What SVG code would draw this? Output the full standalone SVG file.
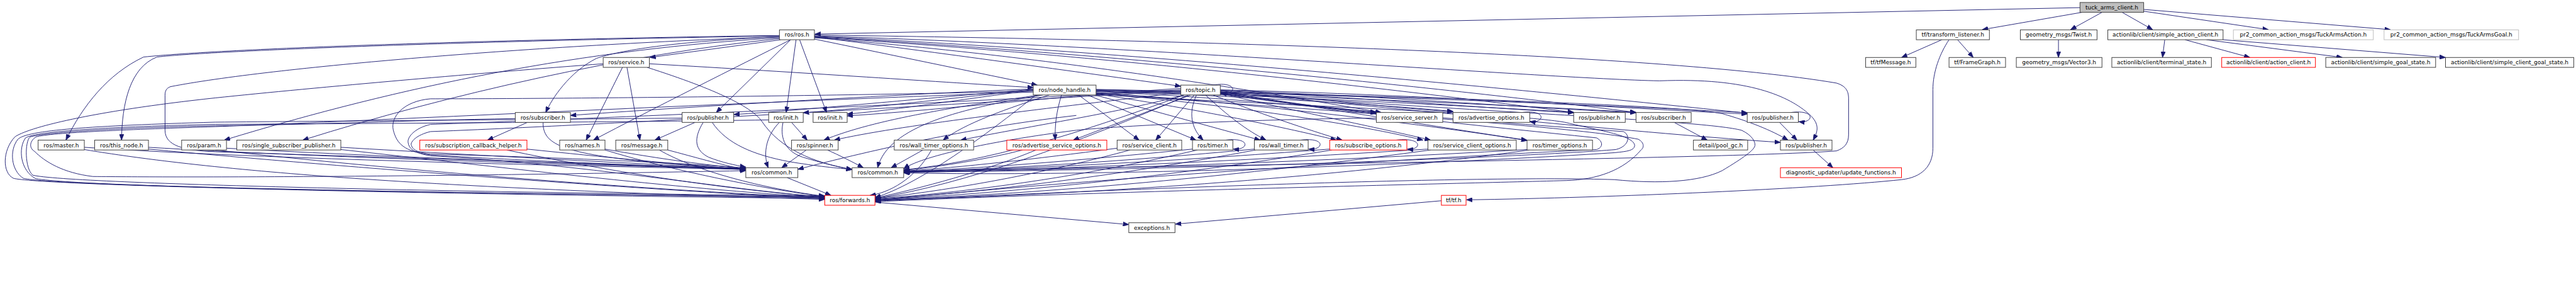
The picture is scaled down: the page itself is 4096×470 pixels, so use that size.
<svg xmlns="http://www.w3.org/2000/svg" width="4096" height="470" viewBox="0 0 4096 470">
<defs>
<marker id="a" markerWidth="14" markerHeight="10" refX="13" refY="5" orient="auto" markerUnits="userSpaceOnUse"><path d="M0,0 L13,5 L0,10 z" fill="#191970" stroke="#191970" stroke-width="1"/></marker>
<style>
.e{fill:none;stroke:#191970;stroke-width:1.3;marker-end:url(#a)}
.n{fill:#fff;stroke:#404040;stroke-width:1.4}
.r{fill:#fff;stroke:#ff0000;stroke-width:1.4}
.g{fill:#fff;stroke:#bfbfbf;stroke-width:1.4}
.k{fill:#bfbfbf;stroke:#404040;stroke-width:1.4}
.t{font-family:"DejaVu Sans",sans-serif;font-size:12.6px;text-anchor:middle;fill:#000}
</style>
</defs>
<rect width="4096" height="470" fill="#fff"/>
<g transform="scale(0.713092)">
<g id="connectors">
<path class="e" d="M4638,17 L1817,76"/>
<path class="e" d="M4642,27.5 L4420,66"/>
<path class="e" d="M4687,27.5 L4617,66"/>
<path class="e" d="M4732,27.5 L4800,66"/>
<path class="e" d="M4780,25 L5058,66"/>
<path class="e" d="M4780,21 L5330,66"/>
<path class="e" d="M4330,88.5 L4240,128"/>
<path class="e" d="M4365,88.5 L4400,128"/>
<path class="e" d="M4346,88.5 C4325,120 4310,160 4310,200 L4310,330 C4310,370 4285,395 4240,400 C4050,420 3600,440 3270,445"/>
<path class="e" d="M4590,88.5 L4590,128"/>
<path class="e" d="M4827,88.5 L4822,128"/>
<path class="e" d="M4872,88.5 L5017,128"/>
<path class="e" d="M4920,88.5 L5223,128"/>
<path class="e" d="M4957,88.5 L5453,128"/>
<path class="e" d="M1738,79 C1100,88 500,108 320,127 C240,165 185,235 147,312"/>
<path class="e" d="M1738,80 C1100,90 480,112 350,127 C290,150 272,230 271,312"/>
<path class="e" d="M1738,84 C1300,110 900,190 500,312"/>
<path class="e" d="M1738,86 C1400,120 1000,210 675,312"/>
<path class="e" d="M1741,88.5 L1449,128"/>
<path class="e" d="M1738,82 C1500,92 1380,113 1330,130 C1270,160 1230,220 1217,250.5"/>
<path class="e" d="M1763,88.5 C1650,145 1450,245 1323,312"/>
<path class="e" d="M1763,88.5 L1597,250.5"/>
<path class="e" d="M1775,88.5 L1753,250.5"/>
<path class="e" d="M1783,88.5 L1843,250.5"/>
<path class="e" d="M1816,87 L2313,189.5"/>
<path class="e" d="M1816,82 C2100,118 2400,160 2633,192"/>
<path class="e" d="M1816,78 C2600,88 3700,118 4095,185 C4118,192 4122,205 4122,220 L4122,300 C4122,320 4112,330 4095,336 C3900,352 2700,368 2016,381"/>
<path class="e" d="M1816,80 C2500,100 3450,175 3700,180 C3900,172 3990,215 4035,255 C4060,278 4052,295 4043,312"/>
<path class="e" d="M1816,81 C2500,112 3400,200 3896,252"/>
<path class="e" d="M1816,82 C2500,120 3300,205 3648,250.5"/>
<path class="e" d="M1816,83 C2500,125 3200,210 3509,250.5"/>
<path class="e" d="M1816,84 C2400,130 2900,220 3080,250.5"/>
<path class="e" d="M1738,82 C1200,100 600,150 380,193 C370,197 368,203 368,212 L368,290 C368,325 410,335 480,338 C900,352 1400,366 1663,376"/>
<path class="e" d="M1388,150 L1307,312"/>
<path class="e" d="M1398,150 L1427,312"/>
<path class="e" d="M1448,142 C1800,162 2100,183 2304,195"/>
<path class="e" d="M1443,150 C1600,200 1680,240 1700,272 C1740,330 1810,362 1900,377"/>
<path class="e" d="M1345,142 C1100,160 700,195 480,218 C200,248 60,285 33,305 C5,335 5,385 30,397 C80,412 900,432 1839,442"/>
<path class="e" d="M1521,263 C1200,266 700,270 480,272 C200,280 60,290 40,310 C20,335 25,380 52,397 C120,415 1000,430 1839,440"/>
<path class="e" d="M1714,267 C1400,272 800,275 480,277 C250,282 80,292 57,307 C40,330 45,380 80,398 C200,418 1100,432 1839,438"/>
<path class="e" d="M1149,264 C900,268 700,278 480,280 C250,285 100,295 67,305 C55,315 55,375 73,390 C150,410 1100,430 1839,436"/>
<path class="e" d="M2304,205 C1600,230 800,270 480,282 C300,288 110,295 80,305 C65,315 65,330 77,337 C100,360 140,385 207,393 C400,395 900,395 1663,380"/>
<path class="e" d="M2304,203 C1800,215 1200,220 960,220 C900,225 870,260 877,290 C885,320 900,337 960,345 C1200,360 1500,370 1663,378"/>
<path class="e" d="M2633,200 C2000,235 1300,265 960,277 C925,285 908,305 910,317 C912,330 920,340 960,347 C1300,365 1600,420 1839,439"/>
<path class="e" d="M2633,202 C2000,240 1300,280 960,293 C930,300 915,315 917,323 C920,333 930,340 960,343 C1300,352 1550,365 1663,374"/>
<path class="e" d="M2304,198 C2000,210 1500,240 1272,257"/>
<path class="e" d="M2304,199 C2100,215 1800,245 1636,255"/>
<path class="e" d="M2304,200 C2150,215 1950,240 1791,251"/>
<path class="e" d="M2304,201 C2150,220 2000,245 1889,254"/>
<path class="e" d="M2318,211.5 C2150,235 1950,265 1837,312"/>
<path class="e" d="M2325,211.5 C2150,240 1980,280 1957,373.5"/>
<path class="e" d="M2340,211.5 C2250,240 2150,275 2103,312"/>
<path class="e" d="M2367,211.5 C2355,250 2352,280 2353,312"/>
<path class="e" d="M2405,211.5 L2540,312"/>
<path class="e" d="M2425,211.5 L2667,312"/>
<path class="e" d="M2440,211 L2810,312"/>
<path class="e" d="M2444,209 C2650,240 2850,280 2980,312"/>
<path class="e" d="M2444,207 C2700,230 3000,270 3173,312"/>
<path class="e" d="M2444,206 C2800,230 3200,280 3405,313"/>
<path class="e" d="M2444,204 C2700,215 2900,235 3069,250"/>
<path class="e" d="M2444,203 C2800,215 3100,235 3240,248"/>
<path class="e" d="M2444,202 C2900,215 3300,238 3509,250"/>
<path class="e" d="M2444,201 C2900,212 3400,236 3648,250"/>
<path class="e" d="M2444,200 C3000,210 3600,235 3896,251"/>
<path class="e" d="M2444,199 C3200,215 3750,235 3840,253 C3900,270 3950,290 3987,312"/>
<path class="e" d="M2400,257 C2200,280 2000,320 1779,377"/>
<path class="e" d="M2310,211.5 C2200,300 2050,410 1951,440"/>
<path class="e" d="M2640,211.5 C2500,250 2300,280 2142,312"/>
<path class="e" d="M2655,211.5 L2393,312"/>
<path class="e" d="M2663,211.5 L2577,312"/>
<path class="e" d="M2668,211.5 C2650,250 2655,285 2683,312"/>
<path class="e" d="M2688,211.5 C2740,260 2780,290 2823,312"/>
<path class="e" d="M2705,211.5 C2800,250 2920,290 2993,312"/>
<path class="e" d="M2721,208 C2900,250 3100,290 3190,312"/>
<path class="e" d="M2721,206 C2950,240 3250,290 3405,312"/>
<path class="e" d="M2721,204 C2850,225 2950,240 3069,252"/>
<path class="e" d="M2721,203 C2950,220 3100,240 3240,249"/>
<path class="e" d="M2721,202 C3000,215 3300,240 3509,251"/>
<path class="e" d="M2721,201 C3100,215 3400,240 3648,251"/>
<path class="e" d="M2721,200 C3200,212 3600,240 3896,254"/>
<path class="e" d="M2721,205 C3100,240 3700,300 3970,317"/>
<path class="e" d="M2633,206 C2300,245 2000,280 1860,312"/>
<path class="e" d="M2633,197 C2400,210 2100,245 1889,258"/>
<path class="e" d="M2640,211.5 C2400,300 2200,360 2015,378"/>
<path class="e" d="M2650,211.5 C2400,320 2150,410 1951,442"/>
<path class="e" d="M188,328 C600,355 1300,370 1663,377"/>
<path class="e" d="M188,333 C500,385 1000,420 1839,444"/>
<path class="e" d="M331,328 C700,350 1300,368 1663,376"/>
<path class="e" d="M331,332 C800,375 1400,420 1839,443"/>
<path class="e" d="M505,330 C900,352 1400,368 1663,377"/>
<path class="e" d="M480,334 C900,380 1400,420 1839,441"/>
<path class="e" d="M760,328 C1100,348 1450,366 1663,376"/>
<path class="e" d="M760,333 C1100,370 1500,420 1839,440"/>
<path class="e" d="M1175,332 C1350,350 1500,365 1663,377"/>
<path class="e" d="M1130,334 C1350,380 1600,420 1839,439"/>
<path class="e" d="M1349,332 C1450,350 1550,365 1663,376"/>
<path class="e" d="M1349,334 C1500,380 1700,420 1839,438"/>
<path class="e" d="M1489,334 C1550,350 1600,365 1663,378"/>
<path class="e" d="M1470,334 C1550,380 1700,420 1839,437"/>
<path class="e" d="M1211,272.5 C1210,320 1250,340 1440,360 C1550,370 1620,375 1663,375"/>
<path class="e" d="M1176,272.5 L1087,312"/>
<path class="e" d="M1550,272.5 L1460,312"/>
<path class="e" d="M1568,272.5 C1545,310 1550,335 1580,350 C1610,362 1640,368 1663,372"/>
<path class="e" d="M1588,272.5 C1620,320 1680,345 1760,360 C1820,370 1870,375 1900,377"/>
<path class="e" d="M1765,272.5 L1800,312"/>
<path class="e" d="M1738,272.5 C1710,300 1700,340 1713,373.5"/>
<path class="e" d="M1746,272.5 C1740,300 1745,335 1790,350 C1830,362 1870,372 1900,378"/>
<path class="e" d="M1798,334 L1743,373.5"/>
<path class="e" d="M1845,334 C1870,345 1900,360 1925,373.5"/>
<path class="e" d="M1755,395.5 L1853,435"/>
<path class="e" d="M2058,334 L1987,373.5"/>
<path class="e" d="M2077,334 C2040,400 1980,430 1940,435"/>
<path class="e" d="M2280,334 C2200,355 2100,370 2015,380"/>
<path class="e" d="M2310,334 C2200,380 2050,420 1951,441"/>
<path class="e" d="M2491,330 C2300,355 2150,372 2015,381"/>
<path class="e" d="M2520,334 C2350,380 2150,420 1951,442"/>
<path class="e" d="M2659,332 C2400,358 2200,374 2015,382"/>
<path class="e" d="M2670,334 C2450,385 2200,425 1951,443"/>
<path class="e" d="M2797,332 C2500,360 2250,375 2015,383"/>
<path class="e" d="M2800,334 C2500,390 2200,428 1951,444"/>
<path class="e" d="M2965,332 C2600,360 2300,376 2015,382"/>
<path class="e" d="M2970,334 C2600,395 2250,430 1951,445"/>
<path class="e" d="M3184,332 C2700,362 2350,377 2015,383"/>
<path class="e" d="M3190,334 C2700,400 2300,432 1951,446"/>
<path class="e" d="M3405,333 C2900,362 2400,378 2015,384"/>
<path class="e" d="M3410,334 C2900,405 2350,435 1951,446"/>
<path class="e" d="M3069,263 C2800,265 2500,280 2400,290 C2200,315 2050,350 2015,376"/>
<path class="e" d="M2721,207 C2900,240 3300,270 3620,293 C3635,300 3635,325 3603,333 C3400,350 2600,380 2016,383"/>
<path class="e" d="M2721,209 C3000,250 3300,280 3560,307 C3575,315 3575,328 3560,333 C3300,345 2500,390 1951,447"/>
<path class="e" d="M2444,211 C3000,240 3400,255 3493,273 C3560,290 3640,300 3645,323 C3645,335 3630,337 3600,340 C3300,360 2500,395 2015,385"/>
<path class="e" d="M2721,206 C3300,250 3800,268 3883,290 C3905,300 3915,315 3913,325 C3910,335 3890,350 3840,380 C3790,405 3700,410 3600,400 C3300,390 2500,420 1951,448"/>
<path class="e" d="M2444,208 C3000,250 3500,280 3653,310 C3668,318 3665,330 3660,333 C3620,380 3560,400 3493,402 C3200,410 2500,425 1951,449"/>
<path class="e" d="M3968,272.5 L4007,312"/>
<path class="e" d="M3733,272.5 L3807,312"/>
<path class="e" d="M4043,334 L4087,373.5"/>
<path class="e" d="M3214,447 L2621,499"/>
<path class="e" d="M1951,450 L2517,500"/>
<path class="e" d="M2705,189.5 C2760,180 2760,212 2722,208"/>
<path class="e" d="M2733,312 C2790,305 2785,335 2750,332"/>
<path class="e" d="M2900,312 C2958,305 2952,335 2918,332"/>
<path class="e" d="M3113,312 C3175,305 3170,335 3138,332"/>
<path class="e" d="M3393,250.5 C3450,243 3445,275 3411,271"/>
<path class="e" d="M3993,250.5 C4050,243 4045,275 4011,271"/>
</g>
<g id="tuck"><rect class="k" x="4638" y="5.5" width="142" height="22"/><text class="t" x="4709" y="21">tuck_arms_client.h</text></g>
<g id="ros"><rect class="n" x="1738" y="66.5" width="78" height="22"/><text class="t" x="1777" y="82">ros/ros.h</text></g>
<g id="tfl"><rect class="n" x="4273" y="66.5" width="163" height="22"/><text class="t" x="4354.5" y="82">tf/transform_listener.h</text></g>
<g id="twist"><rect class="n" x="4505" y="66.5" width="171" height="22"/><text class="t" x="4590.5" y="82">geometry_msgs/Twist.h</text></g>
<g id="sac"><rect class="n" x="4700" y="66.5" width="257" height="22"/><text class="t" x="4828.5" y="82">actionlib/client/simple_action_client.h</text></g>
<g id="tact"><rect class="g" x="4980" y="66.5" width="312" height="22"/><text class="t" x="5136" y="82">pr2_common_action_msgs/TuckArmsAction.h</text></g>
<g id="tgoal"><rect class="g" x="5316" y="66.5" width="300" height="22"/><text class="t" x="5466" y="82">pr2_common_action_msgs/TuckArmsGoal.h</text></g>
<g id="service"><rect class="n" x="1345" y="128" width="103" height="22"/><text class="t" x="1396.5" y="143.5">ros/service.h</text></g>
<g id="tfmsg"><rect class="n" x="4160" y="128" width="112" height="22"/><text class="t" x="4216" y="143.5">tf/tfMessage.h</text></g>
<g id="fg"><rect class="n" x="4346" y="128" width="126" height="22"/><text class="t" x="4409" y="143.5">tf/FrameGraph.h</text></g>
<g id="vec3"><rect class="n" x="4496" y="128" width="191" height="22"/><text class="t" x="4591.5" y="143.5">geometry_msgs/Vector3.h</text></g>
<g id="term"><rect class="n" x="4709" y="128" width="222" height="22"/><text class="t" x="4820" y="143.5">actionlib/client/terminal_state.h</text></g>
<g id="ac"><rect class="r" x="4954" y="128" width="209" height="22"/><text class="t" x="5058.5" y="143.5">actionlib/client/action_client.h</text></g>
<g id="sgs"><rect class="n" x="5186" y="128" width="245" height="22"/><text class="t" x="5308.5" y="143.5">actionlib/client/simple_goal_state.h</text></g>
<g id="scgs"><rect class="n" x="5453" y="128" width="286" height="22"/><text class="t" x="5596" y="143.5">actionlib/client/simple_client_goal_state.h</text></g>
<g id="nh"><rect class="n" x="2304" y="189.5" width="140" height="22"/><text class="t" x="2374" y="205">ros/node_handle.h</text></g>
<g id="topic"><rect class="n" x="2633" y="189.5" width="88" height="22"/><text class="t" x="2677" y="205">ros/topic.h</text></g>
<g id="sub1"><rect class="n" x="1149" y="250.5" width="123" height="22"/><text class="t" x="1210.5" y="266">ros/subscriber.h</text></g>
<g id="pub1"><rect class="n" x="1521" y="250.5" width="115" height="22"/><text class="t" x="1578.5" y="266">ros/publisher.h</text></g>
<g id="init1"><rect class="n" x="1714" y="250.5" width="77" height="22"/><text class="t" x="1752.5" y="266">ros/init.h</text></g>
<g id="init2"><rect class="n" x="1813" y="250.5" width="76" height="22"/><text class="t" x="1851" y="266">ros/init.h</text></g>
<g id="ss"><rect class="n" x="3069" y="250.5" width="148" height="22"/><text class="t" x="3143" y="266">ros/service_server.h</text></g>
<g id="ao"><rect class="n" x="3240" y="250.5" width="171" height="22"/><text class="t" x="3325.5" y="266">ros/advertise_options.h</text></g>
<g id="pub2"><rect class="n" x="3509" y="250.5" width="115" height="22"/><text class="t" x="3566.5" y="266">ros/publisher.h</text></g>
<g id="sub2"><rect class="n" x="3648" y="250.5" width="123" height="22"/><text class="t" x="3709.5" y="266">ros/subscriber.h</text></g>
<g id="pub3"><rect class="n" x="3896" y="250.5" width="114" height="22"/><text class="t" x="3953" y="266">ros/publisher.h</text></g>
<g id="master"><rect class="n" x="85" y="312" width="103" height="22"/><text class="t" x="136.5" y="327.5">ros/master.h</text></g>
<g id="thisnode"><rect class="n" x="211" y="312" width="120" height="22"/><text class="t" x="271" y="327.5">ros/this_node.h</text></g>
<g id="param"><rect class="n" x="405" y="312" width="100" height="22"/><text class="t" x="455" y="327.5">ros/param.h</text></g>
<g id="ssp"><rect class="n" x="528" y="312" width="232" height="22"/><text class="t" x="644" y="327.5">ros/single_subscriber_publisher.h</text></g>
<g id="sch"><rect class="r" x="936" y="312" width="239" height="22"/><text class="t" x="1055.5" y="327.5">ros/subscription_callback_helper.h</text></g>
<g id="names"><rect class="n" x="1248" y="312" width="101" height="22"/><text class="t" x="1298.5" y="327.5">ros/names.h</text></g>
<g id="msg"><rect class="n" x="1373" y="312" width="116" height="22"/><text class="t" x="1431" y="327.5">ros/message.h</text></g>
<g id="spinner"><rect class="n" x="1765" y="312" width="104" height="22"/><text class="t" x="1817" y="327.5">ros/spinner.h</text></g>
<g id="wto"><rect class="n" x="1994" y="312" width="177" height="22"/><text class="t" x="2082.5" y="327.5">ros/wall_timer_options.h</text></g>
<g id="aso"><rect class="r" x="2245" y="312" width="223" height="22"/><text class="t" x="2356.5" y="327.5">ros/advertise_service_options.h</text></g>
<g id="sc"><rect class="n" x="2491" y="312" width="144" height="22"/><text class="t" x="2563" y="327.5">ros/service_client.h</text></g>
<g id="timer"><rect class="n" x="2659" y="312" width="90" height="22"/><text class="t" x="2704" y="327.5">ros/timer.h</text></g>
<g id="wt"><rect class="n" x="2797" y="312" width="120" height="22"/><text class="t" x="2857" y="327.5">ros/wall_timer.h</text></g>
<g id="so"><rect class="r" x="2965" y="312" width="172" height="22"/><text class="t" x="3051" y="327.5">ros/subscribe_options.h</text></g>
<g id="sco"><rect class="n" x="3184" y="312" width="197" height="22"/><text class="t" x="3282.5" y="327.5">ros/service_client_options.h</text></g>
<g id="to"><rect class="n" x="3405" y="312" width="146" height="22"/><text class="t" x="3478" y="327.5">ros/timer_options.h</text></g>
<g id="pool"><rect class="n" x="3776" y="312" width="121" height="22"/><text class="t" x="3836.5" y="327.5">detail/pool_gc.h</text></g>
<g id="pub4"><rect class="n" x="3970" y="312" width="115" height="22"/><text class="t" x="4027.5" y="327.5">ros/publisher.h</text></g>
<g id="common1"><rect class="n" x="1663" y="373.5" width="116" height="22"/><text class="t" x="1721" y="389">ros/common.h</text></g>
<g id="common2"><rect class="n" x="1900" y="373.5" width="115" height="22"/><text class="t" x="1957.5" y="389">ros/common.h</text></g>
<g id="duf"><rect class="r" x="3970" y="373.5" width="270" height="22"/><text class="t" x="4105" y="389">diagnostic_updater/update_functions.h</text></g>
<g id="fwd"><rect class="r" x="1839" y="435" width="112" height="22"/><text class="t" x="1895" y="450.5">ros/forwards.h</text></g>
<g id="tf"><rect class="r" x="3214" y="435" width="55" height="22"/><text class="t" x="3241.5" y="450.5">tf/tf.h</text></g>
<g id="exc"><rect class="n" x="2517" y="496" width="103" height="22"/><text class="t" x="2568.5" y="511.5">exceptions.h</text></g>
</g>
</svg>
